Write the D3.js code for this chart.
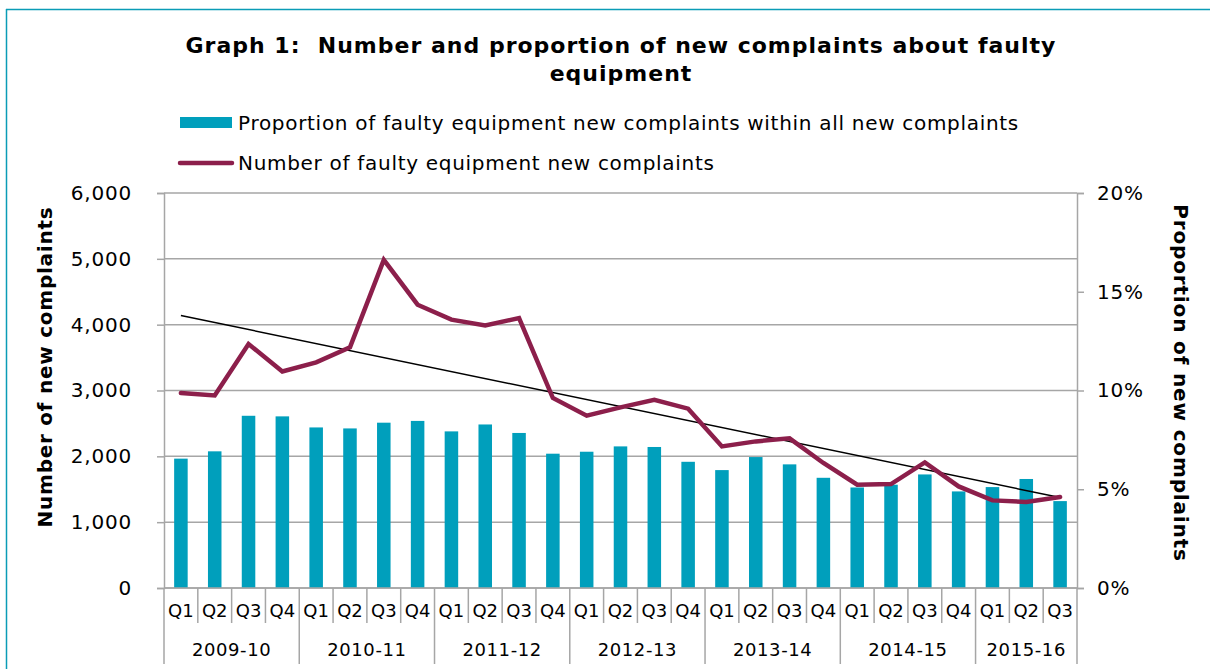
<html>

<head>
    <script src="https://cdnjs.cloudflare.com/ajax/libs/d3/7.1.1/d3.js"></script>
    <style>
        body { margin: 0; background: #fff; }
        text { font-family: 'DejaVu Sans', Verdana, sans-serif; fill: #000; }
    </style>
</head>

<body>
    <script>
        // quarters 2009-10 Q1 .. 2015-16 Q3
        const years = ['2009-10', '2010-11', '2011-12', '2012-13', '2013-14', '2014-15', '2015-16'];
        const quarters = [
            'Q1', 'Q2', 'Q3', 'Q4', 'Q1', 'Q2', 'Q3', 'Q4', 'Q1', 'Q2', 'Q3', 'Q4',
            'Q1', 'Q2', 'Q3', 'Q4', 'Q1', 'Q2', 'Q3', 'Q4', 'Q1', 'Q2', 'Q3', 'Q4',
            'Q1', 'Q2', 'Q3'
        ];
        // proportion within all new complaints (%)
        const proportion = [
            6.55, 6.92, 8.72, 8.69, 8.13, 8.08, 8.37, 8.46, 7.93, 8.28, 7.85, 6.80,
            6.90, 7.17, 7.14, 6.39, 5.97, 6.63, 6.26, 5.58, 5.09, 5.23, 5.75, 4.89,
            5.11, 5.52, 4.40
        ];
        // number of new complaints
        const counts = [
            2962, 2926, 3706, 3290, 3427, 3655, 4985, 4303, 4076, 3989, 4101, 2886,
            2617, 2744, 2860, 2724, 2151, 2227, 2273, 1899, 1570, 1578, 1908, 1543,
            1331, 1306, 1382
        ];
        const leftTicks = [0, 1000, 2000, 3000, 4000, 5000, 6000];
        const rightTicks = [0, 5, 10, 15, 20];

        const width = 1210;
        const height = 669;
        const plot = { left: 164, right: 1077, top: 193, bottom: 588 };
        const barColor = '#009fbc';
        const lineColor = '#8c1f4b';
        const gridColor = '#a6a6a6';

        const svg = d3.select('body').append('svg')
            .attr('width', width)
            .attr('height', height);

        // outer frame (top and left edge visible)
        svg.append('line').attr('x1', 6).attr('x2', width).attr('y1', 9.5).attr('y2', 9.5)
            .style('stroke', '#0a9cb6').style('stroke-width', 1.5);
        svg.append('line').attr('x1', 6.5).attr('x2', 6.5).attr('y1', 9).attr('y2', height)
            .style('stroke', '#0a9cb6').style('stroke-width', 1.5);

        const x = d3.scaleBand()
            .domain(d3.range(quarters.length))
            .range([plot.left, plot.right])
            .paddingInner(0.6)
            .paddingOuter(0.3);
        const step = x.step();
        const edge = i => plot.left + i * step; // category boundary

        const y = d3.scaleLinear().domain([0, 6000]).range([plot.bottom, plot.top]);
        const y2 = d3.scaleLinear().domain([0, 20]).range([plot.bottom, plot.top]);

        // gridlines
        svg.append('g').selectAll('line')
            .data(leftTicks)
            .enter().append('line')
            .attr('x1', plot.left).attr('x2', plot.right)
            .attr('y1', d => y(d)).attr('y2', d => y(d))
            .style('stroke', gridColor).style('stroke-width', 1.5);

        // left axis
        const leftAxis = svg.append('g')
            .attr('transform', `translate(${plot.left},0)`)
            .call(d3.axisLeft(y).tickValues(leftTicks).tickSize(7).tickPadding(25)
                .tickFormat(d3.format(',')));
        leftAxis.select('.domain').style('stroke', gridColor).style('stroke-width', 1.5);
        leftAxis.selectAll('.tick line').style('stroke', gridColor).style('stroke-width', 1.5);
        leftAxis.selectAll('.tick text').attr('font-size', 20).attr('font-family', 'DejaVu Sans')
            .attr('letter-spacing', 0.8);

        // right axis
        const rightAxis = svg.append('g')
            .attr('transform', `translate(${plot.right},0)`)
            .call(d3.axisRight(y2).tickValues(rightTicks).tickSize(7).tickPadding(13)
                .tickFormat(d => d + '%'));
        rightAxis.select('.domain').style('stroke', gridColor).style('stroke-width', 1.5);
        rightAxis.selectAll('.tick line').style('stroke', gridColor).style('stroke-width', 1.5);
        rightAxis.selectAll('.tick text').attr('font-size', 20).attr('font-family', 'DejaVu Sans')
            .attr('letter-spacing', 0.8);

        // bars
        svg.append('g').selectAll('rect')
            .data(proportion)
            .enter().append('rect')
            .attr('x', (d, i) => x(i))
            .attr('width', x.bandwidth())
            .attr('y', d => y2(d))
            .attr('height', d => plot.bottom - y2(d))
            .style('fill', barColor);

        // category axis
        const cat = svg.append('g');
        cat.append('line')
            .attr('x1', plot.left).attr('x2', plot.right)
            .attr('y1', plot.bottom).attr('y2', plot.bottom)
            .style('stroke', gridColor).style('stroke-width', 1.5);
        cat.selectAll('.qsep')
            .data(d3.range(quarters.length + 1))
            .enter().append('line')
            .attr('x1', d => edge(d)).attr('x2', d => edge(d))
            .attr('y1', plot.bottom)
            .attr('y2', d => (d % 4 === 0 || d === quarters.length) ? 664 : 623)
            .style('stroke', gridColor).style('stroke-width', 1.5);
        cat.selectAll('.qlab')
            .data(quarters)
            .enter().append('text')
            .attr('x', (d, i) => x(i) + x.bandwidth() / 2)
            .attr('y', 617)
            .attr('text-anchor', 'middle')
            .attr('font-size', 18)
            .text(d => d);
        cat.selectAll('.ylab')
            .data(years)
            .enter().append('text')
            .attr('x', (d, i) => (edge(i * 4) + edge(Math.min(i * 4 + 4, quarters.length))) / 2)
            .attr('y', 656)
            .attr('text-anchor', 'middle')
            .attr('font-size', 18)
            .attr('letter-spacing', 0.6)
            .text(d => d);

        // linear trend of counts
        const n = counts.length;
        const mx = d3.mean(d3.range(n));
        const my = d3.mean(counts);
        const slope = d3.sum(counts, (v, i) => (i - mx) * (v - my)) / d3.sum(d3.range(n), i => (i - mx) ** 2);
        const intercept = my - slope * mx;
        const cx = i => x(i) + x.bandwidth() / 2;
        svg.append('line')
            .attr('x1', cx(0)).attr('y1', y(intercept))
            .attr('x2', cx(n - 1)).attr('y2', y(intercept + slope * (n - 1)))
            .style('stroke', '#000').style('stroke-width', 1.5);

        // count line
        const line = d3.line()
            .x((d, i) => cx(i))
            .y(d => y(d));
        svg.append('path')
            .datum(counts)
            .attr('d', line)
            .style('fill', 'none')
            .style('stroke', lineColor)
            .style('stroke-width', 4.5)
            .style('stroke-linejoin', 'miter')
            .style('stroke-linecap', 'round');

        // title
        const title = svg.append('text')
            .attr('text-anchor', 'middle')
            .attr('font-size', 22)
            .attr('font-weight', 'bold')
            .attr('letter-spacing', 1);
        title.append('tspan').attr('x', 621).attr('y', 53)
            .text('Graph 1:\u00a0\u00a0Number and proportion of new complaints about faulty');
        title.append('tspan').attr('x', 621).attr('y', 81).text('equipment');

        // legend
        const legend = svg.append('g');
        legend.append('rect')
            .attr('x', 180).attr('y', 117).attr('width', 52).attr('height', 11)
            .style('fill', barColor);
        legend.append('text').attr('x', 238).attr('y', 130).attr('font-size', 20)
            .attr('letter-spacing', 0.7)
            .text('Proportion of faulty equipment new complaints within all new complaints');
        legend.append('line')
            .attr('x1', 180).attr('x2', 232).attr('y1', 163).attr('y2', 163)
            .style('stroke', lineColor).style('stroke-width', 4.5).style('stroke-linecap', 'round');
        legend.append('text').attr('x', 238).attr('y', 170).attr('font-size', 20)
            .attr('letter-spacing', 0.7)
            .text('Number of faulty equipment new complaints');

        // axis titles
        svg.append('text')
            .attr('transform', `translate(52, 367) rotate(-90)`)
            .attr('text-anchor', 'middle')
            .attr('font-size', 20)
            .attr('font-weight', 'bold')
            .attr('letter-spacing', 0.75)
            .text('Number of new complaints');
        svg.append('text')
            .attr('transform', `translate(1174, 383) rotate(90)`)
            .attr('text-anchor', 'middle')
            .attr('font-size', 20)
            .attr('font-weight', 'bold')
            .attr('letter-spacing', 0.85)
            .text('Proportion of new complaints');
    </script>
</body>

</html>
